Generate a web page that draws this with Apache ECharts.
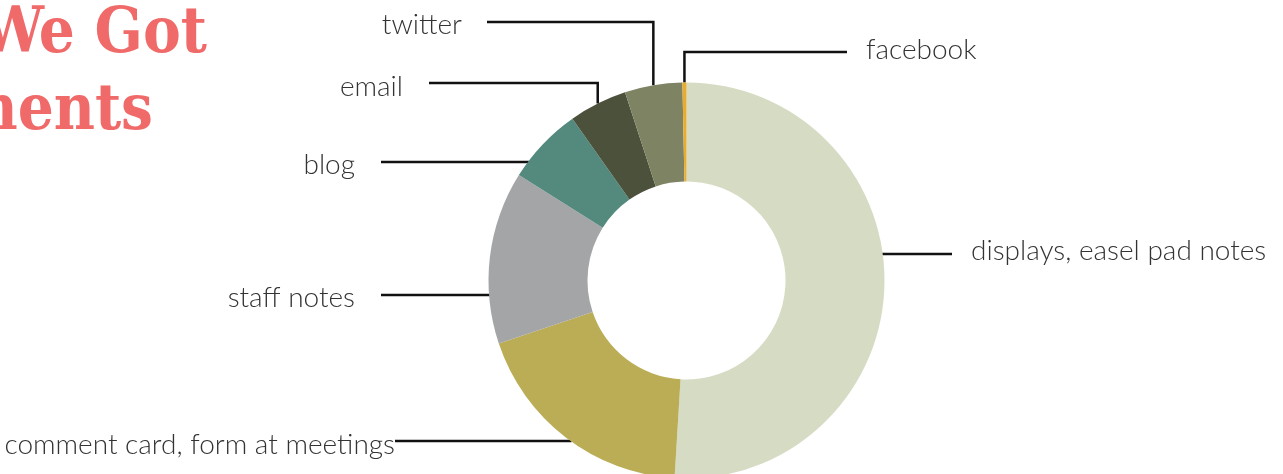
<!DOCTYPE html>
<html><head><meta charset="utf-8">
<script src="https://cdn.jsdelivr.net/npm/echarts@6/dist/echarts.min.js"></script>
<style>html,body{margin:0;padding:0;background:#fff;overflow:hidden;} #c{width:1283px;height:474px;}</style>
</head><body><div id="c"></div>
<script>
// ---- data ----
const categories = ['displays, easel pad notes', 'comment card, form at meetings', 'staff notes', 'blog', 'email', 'twitter', 'facebook'];
const values = [51.0, 18.9, 14.1, 6.3, 4.75, 4.7, 0.33];
const colors = ['#d6dbc4', '#bbad55', '#a4a5a7', '#538a7d', '#4c513c', '#7e8463', '#e8ac2e'];
const titleLines = ['How We Got', 'Comments'];

// ---- layout (positions of label text and leader lines) ----
const CX = 686.5, CY = 280.5, R0 = 99, R1 = 198;
const labelSpots = [
  { lineY: 254, farX: 952, textX: 971, textY: 251, align: 'left',  elbow: false },
  { lineY: 441, farX: 395, textX: 395, textY: 445, align: 'right', elbow: false },
  { lineY: 295, farX: 381, textX: 355, textY: 298, align: 'right', elbow: false },
  { lineY: 162, farX: 381, textX: 355, textY: 165, align: 'right', elbow: false },
  { lineY: 83,  farX: 429, textX: 403, textY: 87,  align: 'right', elbow: true },
  { lineY: 22,  farX: 487, textX: 462, textY: 25,  align: 'right', elbow: true },
  { lineY: 52,  farX: 847, textX: 866, textY: 50,  align: 'left',  elbow: true }
];

const total = values.reduce((a, b) => a + b, 0);
function midAnchor(i) {
  let cum = 0;
  for (let k = 0; k < i; k++) cum += values[k];
  const th = (cum + values[i] / 2) / total * 2 * Math.PI;
  return [CX + R1 * Math.sin(th), CY - R1 * Math.cos(th)];
}

const chart = echarts.init(document.getElementById('c'), null, { renderer: 'canvas' });
chart.setOption({
  animation: false,
  backgroundColor: '#ffffff',
  graphic: [
    { type: 'text', style: { text: titleLines[0], x: 207, y: 36, align: 'right', verticalAlign: 'middle',
        font: 'bold 63px "DejaVu Serif Condensed", "DejaVu Serif", serif', fill: '#f06a6a' } },
    { type: 'text', style: { text: titleLines[1], x: 153, y: 113, align: 'right', verticalAlign: 'middle',
        font: 'bold 63px "DejaVu Serif Condensed", "DejaVu Serif", serif', fill: '#f06a6a' } }
  ],
  series: [{
    type: 'pie',
    center: [CX, CY],
    radius: [R0, R1],
    startAngle: 90,
    clockwise: true,
    avoidLabelOverlap: false,
    silent: true,
    data: categories.map((c, i) => ({ name: c, value: values[i], itemStyle: { color: colors[i] } })),
    label: {
      show: true,
      position: 'outside',
      formatter: '{b}',
      fontFamily: 'Lato',
      fontWeight: 300,
      fontSize: 28,
      color: '#333333'
    },
    labelLine: { show: true, length: 10, length2: 10, lineStyle: { color: '#111111', width: 2.5 } },
    labelLayout: function (p) {
      const s = labelSpots[p.dataIndex];
      let pts;
      if (s.elbow) {
        const a = midAnchor(p.dataIndex);
        pts = [[a[0], a[1]], [a[0], s.lineY], [s.farX, s.lineY]];
      } else {
        const dy = s.lineY - CY;
        const dx = Math.sqrt(R1 * R1 - dy * dy);
        const ex = s.align === 'left' ? CX + dx - 2 : CX - dx + 1;
        pts = [[ex, s.lineY], [s.farX, s.lineY]];
      }
      return { x: s.textX, y: s.textY, align: s.align, verticalAlign: 'middle', labelLinePoints: pts };
    }
  }]
});
</script>
</body></html>
